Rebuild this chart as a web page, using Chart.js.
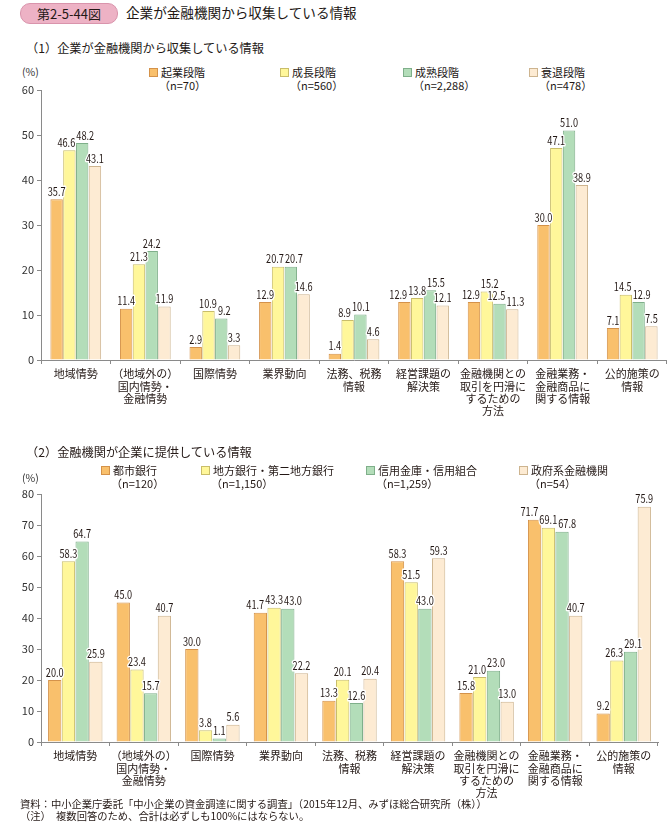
<!DOCTYPE html>
<html><head><meta charset="utf-8">
<script src="https://cdn.jsdelivr.net/npm/chart.js@4.4.1/dist/chart.umd.min.js"></script>
<style>
html,body{margin:0;padding:0;background:#fff;overflow:hidden;}
body{width:667px;height:824px;position:relative;font-family:"Noto Sans CJK JP","Noto Sans",sans-serif;color:#231815;}
.abs{position:absolute;white-space:nowrap;}
#fig{left:20px;top:3px;width:96px;height:19px;border-radius:10px;background:#EDB2C5;border:1px solid #D994AC;font-size:13px;line-height:19px;text-align:center;}
#ttl{left:126px;top:2px;font-size:13.6px;line-height:20px;}
.sub{font-size:12.2px;line-height:16px;}
.pct{font-size:10.5px;line-height:12px;color:#333;}
.lg{font-size:11px;line-height:13px;}
.lg i{display:inline-block;width:7px;height:7px;border:1px solid;margin-right:3px;vertical-align:0px;}
.lg .n{padding-left:10px;}
.fn{font-size:10.3px;line-height:12px;left:20px;}
canvas{position:absolute;left:0;}
</style></head><body>
<div id="fig" class="abs">第2-5-44図</div>
<div id="ttl" class="abs">企業が金融機関から収集している情報</div>
<div class="abs sub" style="left:26px;top:40px;">（1）企業が金融機関から収集している情報</div>
<div class="abs pct" style="left:22px;top:66px;">(%)</div>
<div id="lg1"></div>
<canvas id="c1"></canvas>
<div class="abs sub" style="left:26px;top:444px;">（2）金融機関が企業に提供している情報</div>
<div class="abs pct" style="left:22px;top:472px;">(%)</div>
<div id="lg2"></div>
<canvas id="c2"></canvas>
<div class="abs fn" style="top:798px;">資料：中小企業庁委託「中小企業の資金調達に関する調査」（2015年12月、みずほ総合研究所（株））</div>
<div class="abs fn" style="top:810px;">（注）　複数回答のため、合計は必ずしも100%にはならない。</div>
<script>
const categories = [
  ["地域情勢"],
  ["（地域外の）","国内情勢・","金融情勢"],
  ["国際情勢"],
  ["業界動向"],
  ["法務、税務","情報"],
  ["経営課題の","解決策"],
  ["金融機関との","取引を円滑に","するための","方法"],
  ["金融業務・","金融商品に","関する情報"],
  ["公的施策の","情報"]
];
// Chart (1)
const series1Names = ["起業段階","成長段階","成熟段階","衰退段階"];
const series1N = ["（n=70）","（n=560）","（n=2,288）","（n=478）"];
const kigyo   = [35.7, 11.4, 2.9, 12.9, 1.4, 12.9, 12.9, 30.0, 7.1];
const seicho  = [46.6, 21.3, 10.9, 20.7, 8.9, 13.8, 15.2, 47.1, 14.5];
const seijuku = [48.2, 24.2, 9.2, 20.7, 10.1, 15.5, 12.5, 51.0, 12.9];
const suitai  = [43.1, 11.9, 3.3, 14.6, 4.6, 12.1, 11.3, 38.9, 7.5];
const yTicks1 = [0,10,20,30,40,50,60];
// Chart (2)
const series2Names = ["都市銀行","地方銀行・第二地方銀行","信用金庫・信用組合","政府系金融機関"];
const series2N = ["（n=120）","（n=1,150）","（n=1,259）","（n=54）"];
const toshi    = [20.0, 45.0, 30.0, 41.7, 13.3, 58.3, 15.8, 71.7, 9.2];
const chiho    = [58.3, 23.4, 3.8, 43.3, 20.1, 51.5, 21.0, 69.1, 26.3];
const shinkin  = [64.7, 15.7, 1.1, 43.0, 12.6, 43.0, 23.0, 67.8, 29.1];
const seifu    = [25.9, 40.7, 5.6, 22.2, 20.4, 59.3, 13.0, 40.7, 75.9];
const yTicks2 = [0,10,20,30,40,50,60,70,80];

const fills   = ["#F9C06C","#FFF79A","#B3DDB9","#FDEBD3"];
const borders = ["#D4924A","#C9BD6A","#7FAF8A","#CDB48F"];
const FONT = '"Noto Sans CJK JP","Noto Sans",sans-serif';
const SX = 0.8; // horizontal condensing of value labels

function legend(id, names, ns, xs, top){
  const el = document.getElementById(id);
  names.forEach((nm,i)=>{
    const d = document.createElement('div');
    d.className='abs lg';
    d.style.left = xs[i]+'px'; d.style.top = top+'px';
    d.innerHTML = '<i style="background:'+fills[i]+';border-color:'+borders[i]+'"></i>'+nm+'<br><span class="n">'+ns[i]+'</span>';
    el.appendChild(d);
  });
}
legend('lg1', series1Names, series1N, [149,280,403,529], 66);
legend('lg2', series2Names, series2N, [101,201,366,519], 464);

const labelPlugin = {
  id:'vals',
  afterDatasetsDraw(chart){
    const ctx = chart.ctx;
    ctx.save();
    ctx.font = '11.5px '+FONT;
    const nCat = chart.data.labels.length;
    const nDs = chart.data.datasets.length;
    for(let j=0;j<nCat;j++){
      const items=[];
      for(let di=0;di<nDs;di++){
        const bar = chart.getDatasetMeta(di).data[j];
        const t = chart.data.datasets[di].data[j].toFixed(1);
        items.push({t, x:bar.x, y:bar.y-2, w:ctx.measureText(t).width*SX});
      }
      let cl=[items[0]];
      const flush=()=>{
        if(cl.length>1){
          const tot = cl.reduce((s,a)=>s+a.w,0)+(cl.length-1)*1;
          const c = cl.reduce((s,a)=>s+a.x,0)/cl.length;
          let left = c - tot/2;
          cl.forEach(a=>{a.x = left + a.w/2; left += a.w+1;});
        }
      };
      for(let i=1;i<items.length;i++){
        const p=cl[cl.length-1], a=items[i];
        if(Math.abs(a.y-p.y)<11 && (a.x-p.x) < (a.w+p.w)/2+1){ cl.push(a); }
        else { flush(); cl=[a]; }
      }
      flush();
      items.forEach(a=>{
        ctx.save();
        ctx.translate(a.x, a.y);
        ctx.scale(SX,1);
        ctx.textAlign='center'; ctx.textBaseline='bottom'; ctx.lineJoin='round';
        ctx.strokeStyle='#fff'; ctx.lineWidth=3;
        ctx.strokeText(a.t,0,0);
        ctx.fillStyle='#231815';
        ctx.fillText(a.t,0,0);
        ctx.restore();
      });
    }
    ctx.restore();
  }
};

function make(id, top, height, names, arrs, ticks, padTop, padRight, xh, catPct){
  const cv = document.getElementById(id);
  cv.style.top = top+'px';
  cv.width = 667; cv.height = height;
  cv.style.width='667px'; cv.style.height=height+'px';
  const max = ticks[ticks.length-1];
  return new Chart(cv, {
    type:'bar',
    data:{
      labels: categories,
      datasets: arrs.map((a,i)=>({label:names[i], data:a, backgroundColor:fills[i], borderColor:borders[i], borderWidth:1, categoryPercentage:catPct, barPercentage:0.97}))
    },
    options:{
      responsive:false, animation:false, devicePixelRatio:1,
      layout:{padding:{top:padTop,right:padRight,left:0,bottom:0}},
      plugins:{legend:{display:false}, tooltip:{enabled:false}},
      scales:{
        x:{
          grid:{offset:true, drawOnChartArea:false, drawTicks:true, tickLength:4, color:'#8a8a8a'},
          border:{color:'#8a8a8a'},
          ticks:{font:{family:FONT,size:11,lineHeight:1.12}, color:'#231815', maxRotation:0, autoSkip:false, padding:4},
          afterFit(s){ s.height = xh; }
        },
        y:{
          min:0, max:max,
          afterBuildTicks(s){ s.ticks = ticks.map(v=>({value:v})); },
          grid:{drawOnChartArea:false, drawTicks:true, tickLength:4, color:'#8a8a8a'},
          border:{color:'#8a8a8a'},
          ticks:{font:{family:FONT,size:11}, color:'#333', padding:3},
          afterFit(s){ s.width = 41; }
        }
      }
    },
    plugins:[labelPlugin]
  });
}
make('c1', 60, 390, series1Names, [kigyo,seicho,seijuku,suitai], yTicks1, 30, 0, 90, 0.735);
make('c2', 470, 340, series2Names, [toshi,chiho,shinkin,seifu], yTicks2, 24, 9, 68, 0.8);
</script>
</body></html>
